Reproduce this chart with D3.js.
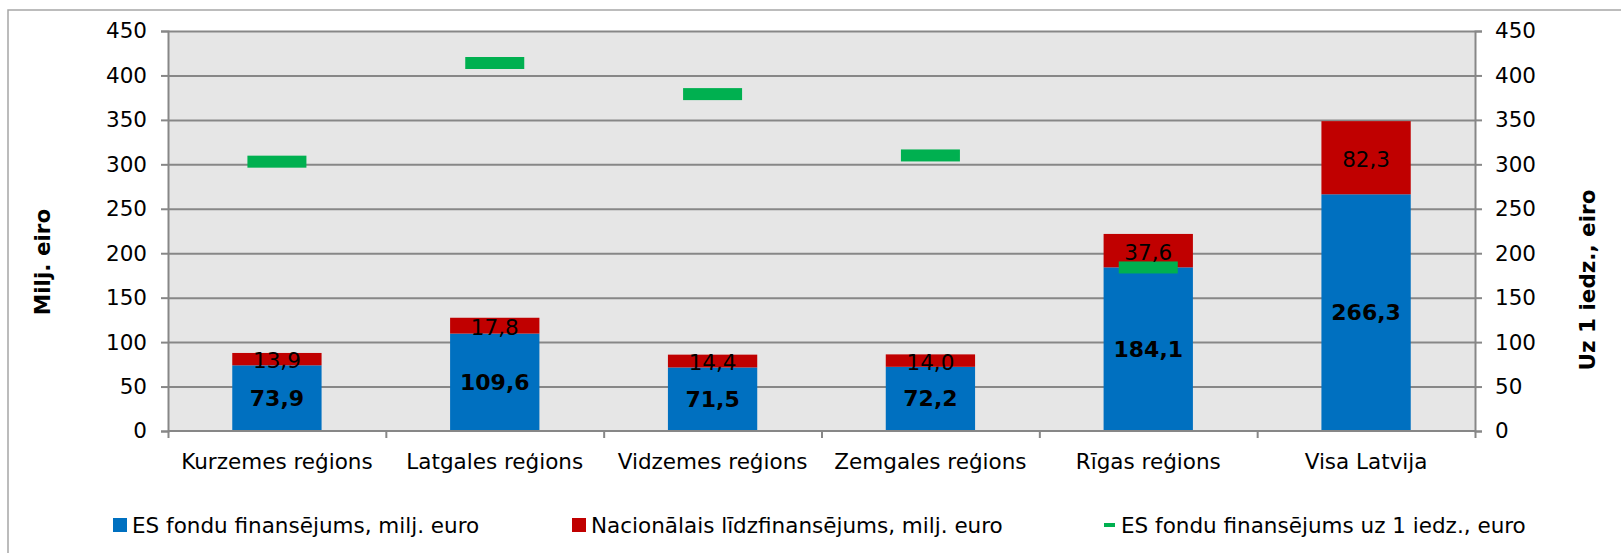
<!DOCTYPE html>
<html>
<head>
<meta charset="utf-8">
<script src="https://cdn.jsdelivr.net/npm/d3@7/dist/d3.min.js"></script>
<style>
  html, body { margin: 0; padding: 0; background: #ffffff; }
  svg { display: block; font-family: "DejaVu Sans", Verdana, sans-serif; }
</style>
</head>
<body>
<svg id="chart" width="1621" height="553"></svg>
<script>
// Chart values
const categories = ["Kurzemes reģions", "Latgales reģions", "Vidzemes reģions", "Zemgales reģions", "Rīgas reģions", "Visa Latvija"];
const esFunding = [73.9, 109.6, 71.5, 72.2, 184.1, 266.3];
const nationalCofinancing = [13.9, 17.8, 14.4, 14.0, 37.6, 82.3];
const perCapita = [303, 414, 379, 310, 184, null];
const leftTicks = [0, 50, 100, 150, 200, 250, 300, 350, 400, 450];
const rightTicks = [0, 50, 100, 150, 200, 250, 300, 350, 400, 450];
const legendLabels = ["ES fondu finansējums, milj. euro", "Nacionālais līdzfinansējums, milj. euro", "ES fondu finansējums uz 1 iedz., euro"];

const COLORS = { es: "#0070c0", nat: "#c00000", perCap: "#00b050", grid: "#878787", plotBg: "#e6e6e6" };
const plot = { left: 168, right: 1475, top: 31, bottom: 431 };
const fontSize = 21.5;

const svg = d3.select("#chart");
const fmt = v => d3.format(".1f")(v).replace(".", ",");

// Outer chart border (cropped on right and bottom)
svg.append("rect")
    .attr("x", 8).attr("y", 10)
    .attr("width", 1700).attr("height", 700)
    .attr("fill", "#ffffff")
    .attr("stroke", "#a6a6a6")
    .attr("stroke-width", 1.5);

const x = d3.scaleBand()
    .domain(categories)
    .range([plot.left, plot.right])
    .paddingInner(0.59)
    .paddingOuter(0.295);
const xCat = d3.scaleBand().domain(categories).range([plot.left, plot.right]);

const y = d3.scaleLinear().domain([0, 450]).range([plot.bottom, plot.top]);
const yRight = d3.scaleLinear().domain([0, 450]).range([plot.bottom, plot.top]);

// Plot background
svg.append("rect")
    .attr("x", plot.left).attr("y", plot.top)
    .attr("width", plot.right - plot.left).attr("height", plot.bottom - plot.top)
    .attr("fill", COLORS.plotBg);

// Gridlines
const grid = svg.append("g")
    .attr("transform", `translate(${plot.left},0)`)
    .call(d3.axisLeft(y).tickValues(leftTicks.filter(d => d > 0)).tickSize(-(plot.right - plot.left)).tickFormat(""));
grid.select(".domain").remove();
grid.selectAll("line").attr("stroke", COLORS.grid).attr("stroke-width", 2);

// Stacked bars
const barG = svg.append("g");
categories.forEach((cat, i) => {
    const bx = x(cat);
    const bw = x.bandwidth();
    const es = esFunding[i];
    const nat = nationalCofinancing[i];

    barG.append("rect")
        .attr("x", bx).attr("y", y(es))
        .attr("width", bw).attr("height", y(0) - y(es))
        .attr("fill", COLORS.es);
    barG.append("rect")
        .attr("x", bx).attr("y", y(es + nat))
        .attr("width", bw).attr("height", y(es) - y(es + nat))
        .attr("fill", COLORS.nat);
});

// Per capita markers (right axis)
const markerW = 59, markerH = 12;
categories.forEach((cat, i) => {
    if (perCapita[i] == null) return;
    const cx = x(cat) + x.bandwidth() / 2;
    svg.append("rect")
        .attr("x", cx - markerW / 2)
        .attr("y", yRight(perCapita[i]) - markerH / 2)
        .attr("width", markerW).attr("height", markerH)
        .attr("fill", COLORS.perCap);
});

// Data labels
categories.forEach((cat, i) => {
    const cx = x(cat) + x.bandwidth() / 2;
    const es = esFunding[i];
    const nat = nationalCofinancing[i];
    svg.append("text")
        .attr("x", cx).attr("y", (y(0) + y(es)) / 2)
        .attr("text-anchor", "middle")
        .attr("dominant-baseline", "central")
        .attr("font-size", 22)
        .attr("font-weight", "bold")
        .attr("fill", "#000")
        .text(fmt(es));
    svg.append("text")
        .attr("x", cx).attr("y", (y(es) + y(es + nat)) / 2 + 1.5)
        .attr("text-anchor", "middle")
        .attr("dominant-baseline", "central")
        .attr("font-size", fontSize)
        .attr("fill", "#000")
        .text(fmt(nat));
});

// Left axis
const leftAxis = svg.append("g")
    .attr("transform", `translate(${plot.left},0)`)
    .call(d3.axisLeft(y).tickValues(leftTicks).tickSize(7).tickPadding(14));
// Right axis
const rightAxis = svg.append("g")
    .attr("transform", `translate(${plot.right},0)`)
    .call(d3.axisRight(yRight).tickValues(rightTicks).tickSize(7).tickPadding(13));
// Bottom axis: ticks at category boundaries
const boundaries = categories.map(c => xCat(c)).concat([plot.right]);
const bottomAxis = svg.append("g")
    .attr("transform", `translate(0,${plot.bottom})`)
    .call(d3.axisBottom(d3.scaleLinear().domain([plot.left, plot.right]).range([plot.left, plot.right]))
        .tickValues(boundaries).tickSize(7).tickFormat(""));

[leftAxis, rightAxis, bottomAxis].forEach(a => {
    a.select(".domain").attr("stroke", COLORS.grid).attr("stroke-width", 2);
    a.selectAll(".tick line").attr("stroke", COLORS.grid).attr("stroke-width", 2);
    a.selectAll("text")
        .attr("font-size", fontSize)
        .attr("font-family", "DejaVu Sans, Verdana, sans-serif")
        .attr("fill", "#000");
});
bottomAxis.select(".domain").attr("d", `M${plot.left},0H${plot.right}`);

// Category labels
categories.forEach(cat => {
    svg.append("text")
        .attr("x", xCat(cat) + xCat.bandwidth() / 2)
        .attr("y", 461)
        .attr("text-anchor", "middle")
        .attr("dominant-baseline", "central")
        .attr("font-size", fontSize)
        .attr("fill", "#000")
        .text(cat);
});

// Axis titles
svg.append("text")
    .attr("transform", "translate(42,262) rotate(-90)")
    .attr("text-anchor", "middle")
    .attr("dominant-baseline", "central")
    .attr("font-size", fontSize)
    .attr("font-weight", "bold")
    .text("Milj. eiro");
svg.append("text")
    .attr("transform", "translate(1587,280) rotate(-90)")
    .attr("text-anchor", "middle")
    .attr("dominant-baseline", "central")
    .attr("font-size", fontSize)
    .attr("font-weight", "bold")
    .text("Uz 1 iedz., eiro");

// Legend
const legendY = 525;
const legendItems = [
    { x: 113, label: legendLabels[0], color: COLORS.es, type: "box" },
    { x: 572, label: legendLabels[1], color: COLORS.nat, type: "box" },
    { x: 1104, label: legendLabels[2], color: COLORS.perCap, type: "line" }
];
legendItems.forEach(item => {
    const g = svg.append("g");
    if (item.type === "box") {
        g.append("rect")
            .attr("x", item.x).attr("y", legendY - 7)
            .attr("width", 14).attr("height", 14)
            .attr("fill", item.color);
    } else {
        g.append("rect")
            .attr("x", item.x).attr("y", legendY - 2)
            .attr("width", 11).attr("height", 4)
            .attr("fill", item.color);
    }
    g.append("text")
        .attr("x", item.x + (item.type === "box" ? 19 : 17))
        .attr("y", legendY)
        .attr("dominant-baseline", "central")
        .attr("font-size", fontSize)
        .attr("fill", "#000")
        .text(item.label);
});
</script>
</body>
</html>
